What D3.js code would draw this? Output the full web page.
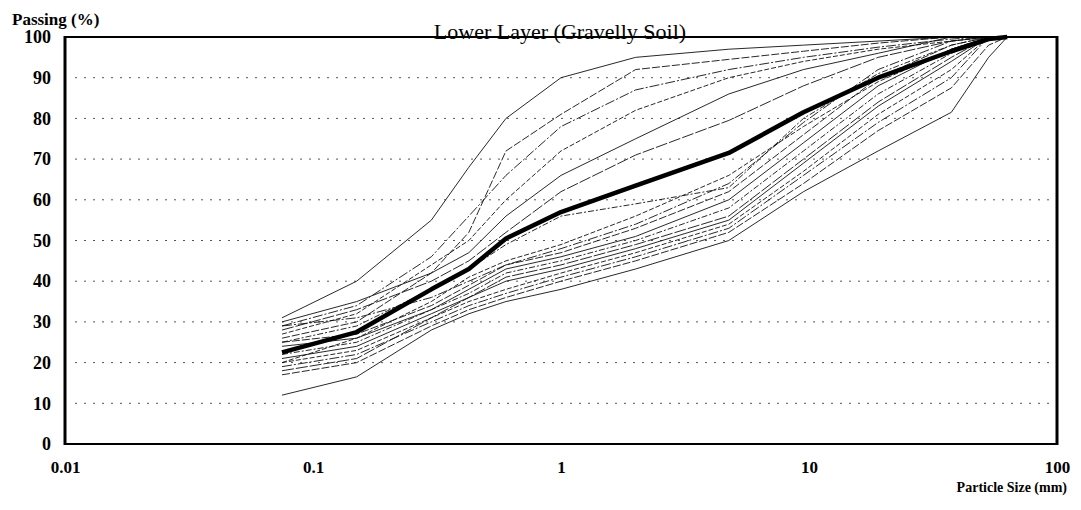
<!DOCTYPE html>
<html>
<head>
<meta charset="utf-8">
<script src="https://cdn.jsdelivr.net/npm/d3@7"></script>
<style>
  body { margin: 0; background: #fff; }
  svg text { font-family: "Liberation Serif", "DejaVu Serif", serif; fill: #000; }
</style>
</head>
<body>
<svg id="chart" width="1081" height="510"></svg>
<script>
// sieve openings (mm)
const sieveSizes = [0.075, 0.15, 0.3, 0.425, 0.6, 1, 2, 4.75, 9.5, 19, 37.5, 53, 63];

// percent passing, one array per sample (finer samples first)
const sampleA = [31, 40, 55, 68, 80, 90, 95, 97, 98, 99, 100, 100, 100];
const sampleB = [26, 30, 42, 52, 72, 81, 92, 94.5, 96.5, 98.5, 100, 100, 100];
const sampleC = [29, 34, 46, 56, 66, 78, 87, 92, 95, 97.5, 99.5, 100, 100];
const sampleD = [27, 32, 44, 50, 60, 72, 82, 90, 94, 97, 99, 100, 100];
const sampleE = [30, 35, 42, 47, 56, 66, 75, 86, 92, 96, 100, 100, 100];
const sampleF = [28, 33, 40, 45, 52, 62, 71, 79.5, 88, 95, 99, 100, 100];
const sampleG = [25, 29, 38, 43, 49, 56, 59, 63, 80, 91, 98, 100, 100];
const sampleH = [12, 16.5, 28, 32, 35, 38, 43, 50, 62, 72, 81.5, 95, 100];
const sampleI = [17, 20, 29, 33, 36, 40, 45, 52, 64, 77, 87.5, 98, 100];
const sampleJ = [19, 22, 30, 34, 37, 41, 46, 53, 66, 79, 90, 100, 100];
const sampleK = [20, 23, 31, 35, 38, 42, 47, 54, 67, 81, 92, 100, 100];
const sampleL = [21, 24, 32, 36, 40, 43, 48, 55, 69, 83, 94, 100, 100];
const sampleM = [18, 21, 31, 36, 41, 44, 49, 56, 70, 84, 95, 100, 100];
const sampleN = [22, 25, 33, 37, 42, 45, 50, 58, 72, 86, 96, 100, 100];
const sampleO = [24, 26, 33, 38, 43, 46, 51, 60, 74, 88, 97, 100, 100];
const sampleP = [25, 27, 34, 39, 44, 47, 53, 62, 76, 90, 98, 100, 100];
const sampleQ = [29, 31, 36, 40, 44, 48, 54, 64, 79, 92, 99, 100, 100];
const sampleR = [20, 26, 35, 41, 45, 49, 56, 66, 78, 89, 97, 100, 100];

// mean grading curve (heavy line)
const averageCurve = [22.5, 27.5, 38, 43, 50.5, 57, 63.5, 71.5, 81.5, 90, 96.5, 99.5, 100];

const samples = [sampleA, sampleB, sampleC, sampleD, sampleE, sampleF, sampleG, sampleH, sampleI,
                 sampleJ, sampleK, sampleL, sampleM, sampleN, sampleO, sampleP, sampleQ, sampleR];

const yTicks = [0, 10, 20, 30, 40, 50, 60, 70, 80, 90, 100];
const xTicks = [0.01, 0.1, 1, 10, 100];
const xTickLabels = ["0.01", "0.1", "1", "10", "100"];

const svg = d3.select("#chart");
const plotLeft = 65, plotRight = 1057, plotTop = 37, plotBottom = 444;

const x = d3.scaleLog().domain([0.01, 100]).range([plotLeft, plotRight]);
const y = d3.scaleLinear().domain([0, 100]).range([plotBottom, plotTop]);

// horizontal dotted grid
svg.append("g")
  .selectAll("line")
  .data(yTicks.filter(t => t > 0 && t < 100))
  .enter()
  .append("line")
  .attr("x1", plotLeft + 10)
  .attr("x2", plotRight - 6)
  .attr("y1", d => y(d))
  .attr("y2", d => y(d))
  .attr("stroke", "#555")
  .attr("stroke-width", 1)
  .attr("stroke-dasharray", "2,7");

// turn a sample into points, stopping once it reaches 100 %
function toPoints(vals) {
  const pts = [];
  for (let i = 0; i < vals.length; i++) {
    pts.push([sieveSizes[i], vals[i]]);
    if (vals[i] >= 100) break;
  }
  return pts;
}

const line = d3.line()
  .x(d => x(d[0]))
  .y(d => y(d[1]));

const dashes = [null, "8,2", "10,2,2,2", "5,2", null, "12,2", "6,2,2,2"];

svg.append("g")
  .selectAll("path")
  .data(samples)
  .enter()
  .append("path")
  .attr("d", d => line(toPoints(d)))
  .attr("fill", "none")
  .attr("stroke", "#111")
  .attr("stroke-width", 0.9)
  .attr("stroke-dasharray", (d, i) => dashes[i % dashes.length]);

svg.append("path")
  .attr("d", line(toPoints(averageCurve)))
  .attr("fill", "none")
  .attr("stroke", "#000")
  .attr("stroke-width", 4.5)
  .attr("stroke-linejoin", "round");

// frame
svg.append("line").attr("x1", plotLeft).attr("x2", plotRight).attr("y1", plotTop).attr("y2", plotTop)
  .attr("stroke", "#000").attr("stroke-width", 2);
svg.append("line").attr("x1", plotLeft).attr("x2", plotRight).attr("y1", plotBottom).attr("y2", plotBottom)
  .attr("stroke", "#000").attr("stroke-width", 2);
svg.append("line").attr("x1", plotLeft).attr("x2", plotLeft).attr("y1", plotTop - 1).attr("y2", plotBottom + 1)
  .attr("stroke", "#000").attr("stroke-width", 3);
svg.append("line").attr("x1", plotRight).attr("x2", plotRight).attr("y1", plotTop - 1).attr("y2", plotBottom + 1)
  .attr("stroke", "#000").attr("stroke-width", 3);

// y axis labels
const yAxis = d3.axisLeft(y).tickValues(yTicks).tickSize(0).tickPadding(14);
svg.append("g")
  .attr("transform", `translate(${plotLeft},0)`)
  .call(yAxis)
  .call(g => g.select(".domain").remove())
  .selectAll("text")
  .style("font-family", "'Liberation Serif', serif")
  .style("font-size", "18px")
  .style("font-weight", "bold");

// x axis labels
const xAxis = d3.axisBottom(x).tickValues(xTicks).tickSize(0).tickPadding(17)
  .tickFormat((d, i) => xTickLabels[i]);
svg.append("g")
  .attr("transform", `translate(0,${plotBottom})`)
  .call(xAxis)
  .call(g => g.select(".domain").remove())
  .selectAll("text")
  .style("font-family", "'Liberation Serif', serif")
  .style("font-size", "17px")
  .style("font-weight", "bold");

svg.append("text")
  .attr("x", 12)
  .attr("y", 25)
  .style("font-size", "17px")
  .style("font-weight", "bold")
  .text("Passing (%)");

svg.append("text")
  .attr("x", 1067)
  .attr("y", 492)
  .attr("text-anchor", "end")
  .style("font-size", "14px")
  .style("font-weight", "bold")
  .text("Particle Size (mm)");

svg.append("text")
  .attr("x", 560)
  .attr("y", 39)
  .attr("text-anchor", "middle")
  .style("font-size", "22px")
  .text("Lower Layer (Gravelly Soil)");
</script>
</body>
</html>
